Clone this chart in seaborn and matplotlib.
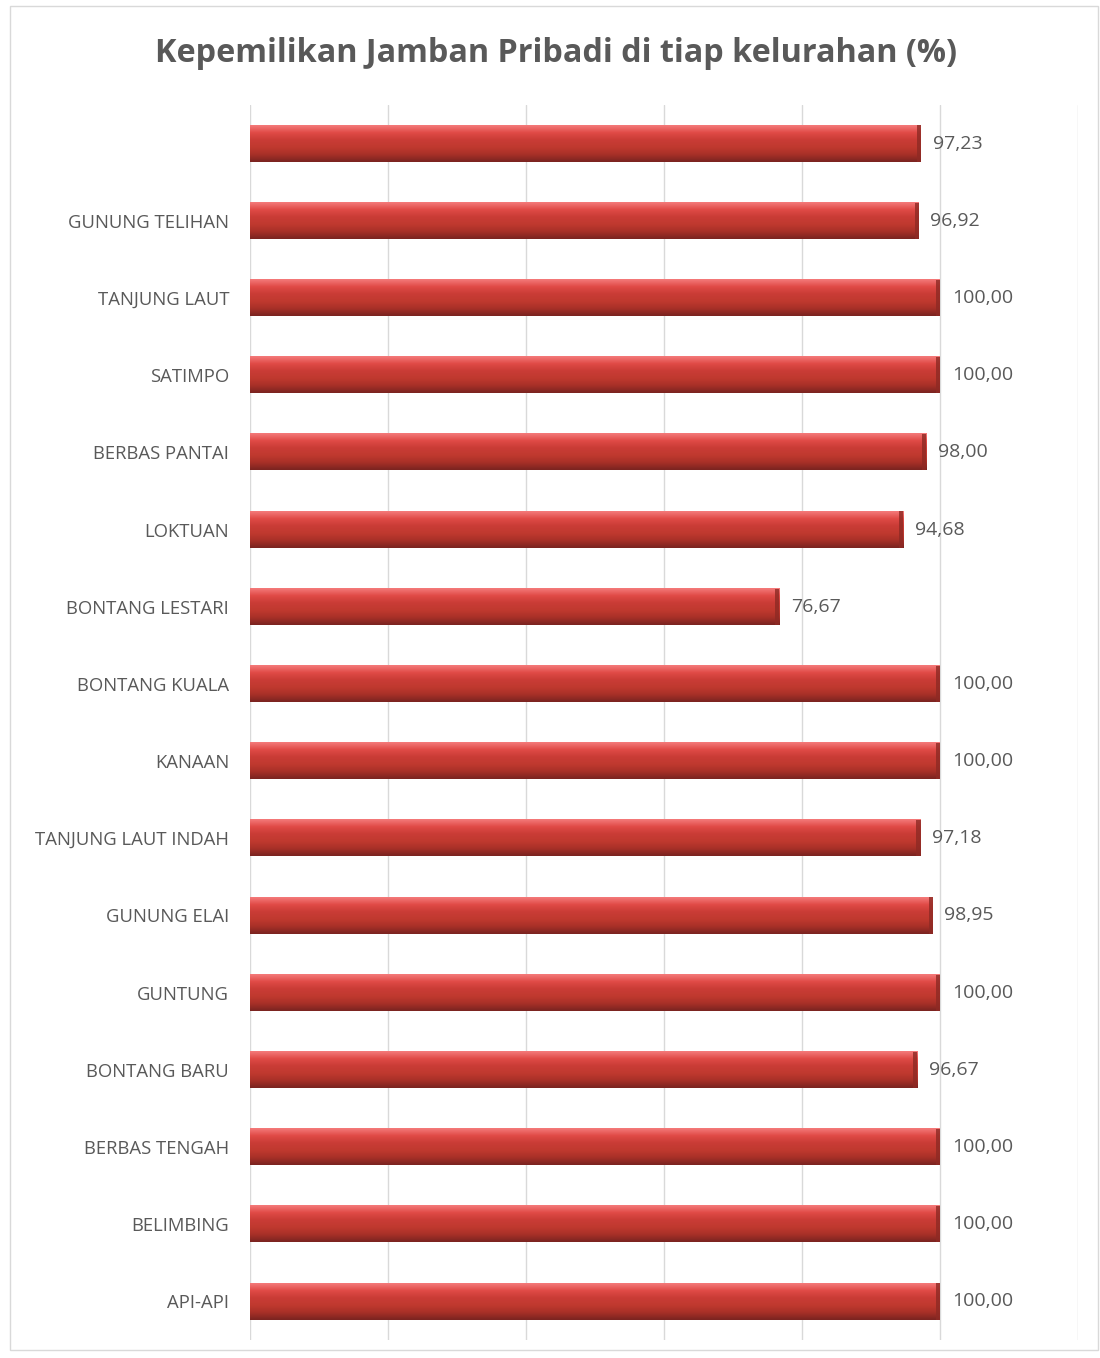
import numpy as np
import pandas as pd
import matplotlib
matplotlib.use("Agg")
import matplotlib.pyplot as plt
from matplotlib.patches import Rectangle
from matplotlib.colors import LinearSegmentedColormap
import seaborn as sns

kelurahan = ["", "GUNUNG TELIHAN", "TANJUNG LAUT", "SATIMPO", "BERBAS PANTAI",
             "LOKTUAN", "BONTANG LESTARI", "BONTANG KUALA", "KANAAN",
             "TANJUNG LAUT INDAH", "GUNUNG ELAI", "GUNTUNG", "BONTANG BARU",
             "BERBAS TENGAH", "BELIMBING", "API-API"]
persen = [97.23, 96.92, 100.00, 100.00, 98.00, 94.68, 76.67, 100.00, 100.00,
          97.18, 98.95, 100.00, 96.67, 100.00, 100.00, 100.00]
title = "Kepemilikan Jamban Pribadi di tiap kelurahan (%)"

df = pd.DataFrame({"kelurahan": kelurahan, "persen": persen})

sns.set_theme(style="white")
plt.rcParams["font.family"] = ["Open Sans", "DejaVu Sans"]

fig = plt.figure(figsize=(11, 13.58), dpi=100)
ax = fig.add_axes([250/1100, 1 - 1340/1358, (1078-250)/1100, (1340-105)/1358])

sns.barplot(data=df, x="persen", y="kelurahan", order=kelurahan, orient="h",
            color="#c0392b", width=0.47, ax=ax, zorder=3)

ax.set_xlim(0, 120)
ax.set_ylim(len(kelurahan) - 0.5, -0.5)
ax.set_xticks(np.arange(0, 121, 20))
ax.set_xticklabels([])
ax.xaxis.grid(True, color="#d9d9d9", linewidth=1)
ax.set_axisbelow(True)
for s in ax.spines.values():
    s.set_visible(False)
ax.set_xlabel("")
ax.set_ylabel("")
ax.tick_params(axis="y", length=0, pad=15, labelsize=13.3, labelcolor="#595959")
ax.tick_params(axis="x", length=0)

# gradient fill over bars
cmap = LinearSegmentedColormap.from_list(
    "bar3d", ["#f47a7a", "#e04a46", "#c93c36", "#c0392f", "#a83028", "#7a2420"])
grad = np.linspace(0, 1, 64).reshape(-1, 1)
for p in list(ax.patches):
    x0, y0 = p.get_x(), p.get_y()
    w, h = p.get_width(), p.get_height()
    p.set_facecolor("none")
    p.set_edgecolor("none")
    ax.imshow(grad, cmap=cmap, aspect="auto",
              extent=(x0, x0 + w, y0 + h, y0), zorder=4, interpolation="bicubic")
    ax.add_patch(Rectangle((x0 + w - 0.6, y0), 0.6, h, facecolor="#8e2a24",
                           edgecolor="none", zorder=5, alpha=0.8))
    ax.text(x0 + w + 1.7, y0 + h / 2, f"{w:.2f}".replace(".", ","),
            va="center", ha="left", fontsize=14, color="#595959", zorder=6)
ax.set_xlim(0, 120)
ax.set_ylim(len(kelurahan) - 0.5, -0.5)

fig.text(556/1100, 1 - 53/1358, title, ha="center", va="center",
         fontsize=23.3, fontweight="bold", color="#595959")

fig.patches.append(Rectangle((10/1100, 8/1358), 1088/1100, 1344/1358,
                             transform=fig.transFigure, facecolor="none",
                             edgecolor="#d9d9d9", linewidth=1))

fig.savefig("out.png", dpi=100)
